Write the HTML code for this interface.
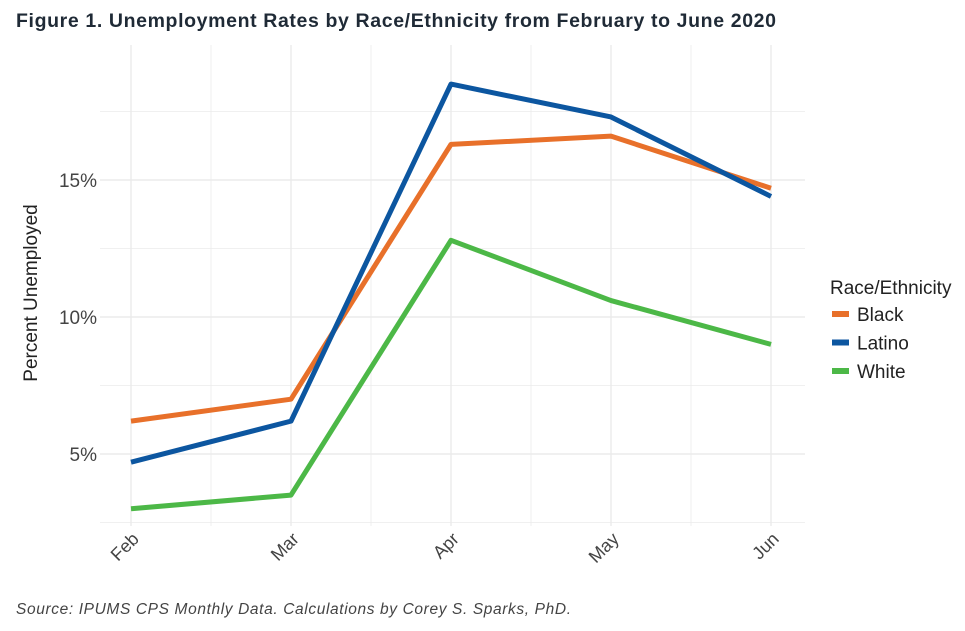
<!DOCTYPE html>
<html><head><meta charset="utf-8"><style>
body{margin:0;background:#fff;width:965px;height:626px;overflow:hidden;font-family:"Liberation Sans",sans-serif;}
</style></head><body>
<svg width="965" height="626">
<text x="16" y="27" font-size="19.5" font-weight="bold" fill="#1f2a36" textLength="760" lengthAdjust="spacing">Figure 1. Unemployment Rates by Race/Ethnicity from February to June 2020</text>
<g id="grid"></g>
<g id="axes"></g>
<g id="series"></g>
<text transform="translate(37,293) rotate(-90)" text-anchor="middle" font-size="19" fill="#222">Percent Unemployed</text>
<g>
<text x="830" y="294" font-size="19" fill="#222">Race/Ethnicity</text>
<g id="legend"></g>
</g>
<text x="16" y="614" font-size="15.5" font-style="italic" fill="#444" textLength="555" lengthAdjust="spacing">Source: IPUMS CPS Monthly Data. Calculations by Corey S. Sparks, PhD.</text>
</svg>
<script>
const months=["Feb","Mar","Apr","May","Jun"];
const black=[6.2,7.0,16.3,16.6,14.7];
const latino=[4.7,6.2,18.5,17.3,14.4];
const white=[3.0,3.5,12.8,10.6,9.0];
const yTicks=[5,10,15];
const yTickLabels=["5%","10%","15%"];
const seriesNames=["Black","Latino","White"];
const colors=["#e8702a","#0c56a0","#4cb847"];
const NS="http://www.w3.org/2000/svg";
const x=i=>131+i*160;
const y=v=>591-v*27.4;
const L=100,R=805,T=45,B=526;
function mk(t,a,p){const e=document.createElementNS(NS,t);for(const k in a)e.setAttribute(k,a[k]);p.appendChild(e);return e;}
const g=document.getElementById('grid');
for(let i=-0.5;i<=4.5;i+=0.5){const xx=x(i);if(xx<L||xx>R)continue;
const l=mk('line',{x1:xx,x2:xx,y1:T,y2:B,stroke:"#ebebeb","stroke-width":Number.isInteger(i)?1.4:0.8},g);
}
for(let v=2.5;v<=20;v+=2.5){const yy=y(v);if(yy<T||yy>B)continue;
const l=mk('line',{x1:L,x2:R,y1:yy,y2:yy,stroke:"#ebebeb","stroke-width":v%5===0?1.4:0.8},g);
}
const a=document.getElementById('axes');
yTicks.forEach((v,i)=>{const t=mk('text',{x:97,y:y(v)+7,"text-anchor":"end","font-size":19,fill:"#444"},a);t.textContent=yTickLabels[i];
});
months.forEach((m,i)=>{const t=mk('text',{transform:`translate(${x(i)+9},${540}) rotate(-45)`,"text-anchor":"end","font-size":18,fill:"#444"},a);t.textContent=m;
});
const s=document.getElementById('series');
[black,latino,white].forEach((d,k)=>{const p=mk('polyline',{points:d.map((v,i)=>x(i)+","+y(v)).join(" "),fill:"none",stroke:colors[k],"stroke-width":5,"stroke-linejoin":"round"},s);
});
const lg=document.getElementById('legend');
seriesNames.forEach((n,k)=>{const yy=318+k*28.5;
const r=mk('rect',{x:832,y:yy-7,width:17,height:6,fill:colors[k]},lg);

const t=mk('text',{x:857,y:yy+3,"font-size":19,fill:"#222"},lg);t.textContent=n;
});
</script>
</body></html>
